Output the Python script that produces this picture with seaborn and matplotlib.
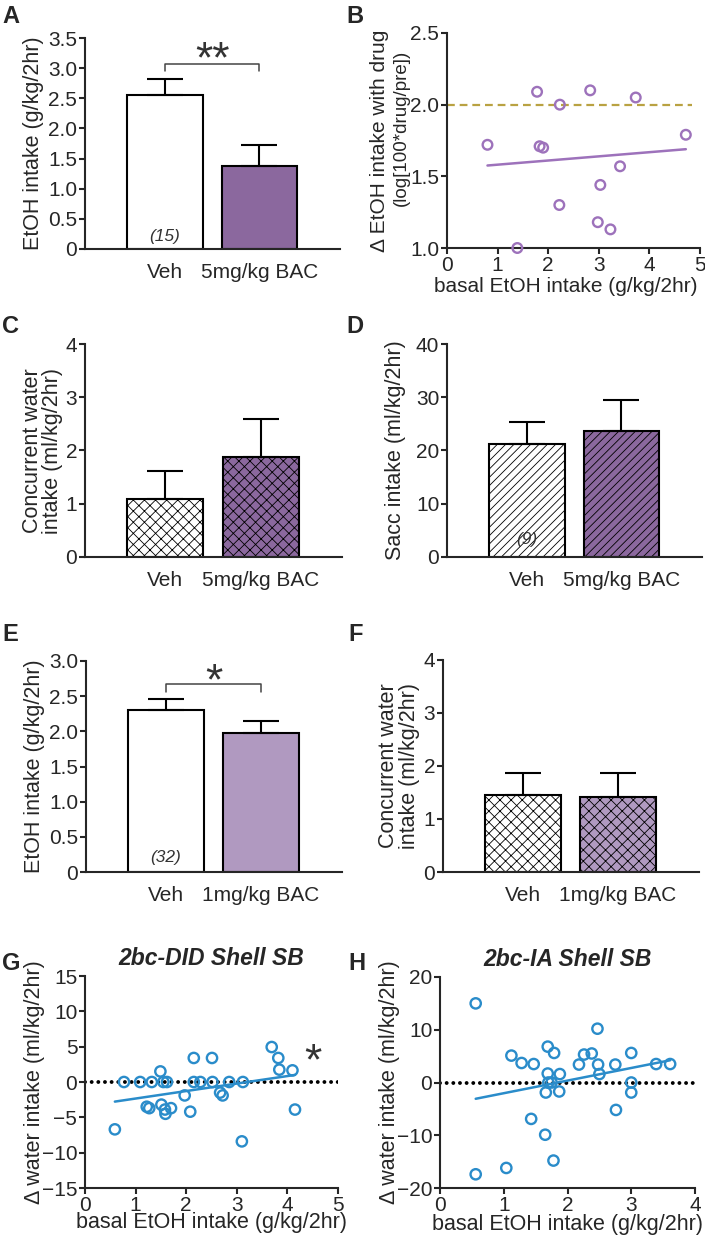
import numpy as np
import pandas as pd
import matplotlib
matplotlib.use("Agg")
import matplotlib.pyplot as plt
import seaborn as sns

sns.set_style("ticks")
plt.rcParams['font.family'] = ['Liberation Sans', 'DejaVu Sans']
plt.rcParams['hatch.linewidth'] = 0.6
plt.rcParams['axes.linewidth'] = 1.5

# colours
dark_purple = '#8d5fa7'
light_purple = '#b193c6'
marker_purple = '#9d72bb'
blue = '#2a8cca'
olive = '#b9a242'

# bar panels: means and SEM
groups_5 = ['Veh', '5mg/kg BAC']
groups_1 = ['Veh', '1mg/kg BAC']
a_mean = [2.55, 1.38]
a_sem = [0.27, 0.35]
c_mean = [1.09, 1.87]
c_sem = [0.52, 0.72]
d_mean = [21.3, 23.6]
d_sem = [4.1, 5.9]
e_mean = [2.31, 1.98]
e_sem = [0.15, 0.17]
f_mean = [1.46, 1.41]
f_sem = [0.40, 0.45]

# panel B scatter
b_basal = [0.80, 1.39, 1.78, 1.83, 1.90, 2.23, 2.22, 2.83, 2.98, 3.03, 3.23, 3.42, 3.73, 4.72]
b_delta = [1.72, 1.00, 2.09, 1.71, 1.70, 2.00, 1.30, 2.10, 1.18, 1.44, 1.13, 1.57, 2.05, 1.79]

# panel G scatter (2bc-DID)
g_basal = [0.59, 0.77, 1.09, 1.22, 1.27, 1.32, 1.49, 1.51, 1.55, 1.58, 1.59, 1.62, 1.70,
           1.97, 2.08, 2.15, 2.15, 2.28, 2.51, 2.52, 2.67, 2.72, 2.85, 3.10, 3.12, 3.69,
           3.82, 3.84, 4.10, 4.15]
g_water = [-6.7, 0.0, 0.0, -3.5, -3.7, 0.0, 1.5, -3.2, 0.0, -3.9, -4.5, 0.0, -3.7,
           -1.9, -4.2, 3.4, 0.0, 0.0, 3.4, 0.0, -1.5, -1.9, 0.0, -8.4, 0.0, 4.95,
           3.4, 1.75, 1.65, -3.9]

# panel H scatter (2bc-IA)
h_basal = [0.56, 0.56, 1.04, 1.12, 1.28, 1.47, 1.43, 1.65, 1.66, 1.69, 1.69, 1.70, 1.75,
           1.78, 1.79, 1.88, 1.87, 2.18, 2.26, 2.38, 2.47, 2.48, 2.50, 2.75, 2.76, 3.00,
           3.00, 3.00, 3.39, 3.61]
h_water = [15.0, -17.4, -16.2, 5.1, 3.7, 3.5, -6.9, -9.9, -1.9, 6.8, 1.7, 0.0, 0.0,
           -14.8, 5.6, 1.6, -1.7, 3.4, 5.3, 5.5, 10.2, 3.4, 1.6, 3.4, -5.2, 5.6,
           0.0, -1.9, 3.5, 3.5]

W, H = 705, 1237
fig = plt.figure(figsize=(W / 100, H / 100), dpi=100)


def px_axes(left, top, right, bottom):
    return fig.add_axes([left / W, 1 - bottom / H, (right - left) / W, (bottom - top) / H])


def bar_panel(ax, groups, means, sems, colors, hatch=None):
    df = pd.DataFrame({'group': groups, 'value': means})
    sns.barplot(data=df, x='group', y='value', hue='group', palette=colors, legend=False,
                width=0.8, edgecolor='black', linewidth=1.5, errorbar=None, ax=ax)
    if hatch:
        for p in ax.patches:
            p.set_hatch(hatch)
    ax.errorbar(x=np.arange(len(groups)), y=means,
                yerr=[np.zeros(len(means)), sems], fmt='none', ecolor='black',
                elinewidth=1.5, capsize=13, capthick=1.5)
    ax.set_xlim(-0.84, 1.85)
    ax.set_xlabel('')
    ax.tick_params(axis='x', length=0, pad=10, labelsize=15)
    ax.tick_params(axis='y', length=4, width=1.5, pad=1.5, labelsize=15)
    sns.despine(ax=ax)


def ylab(ax, text, x, size=15.5):
    ax.set_ylabel(text, fontsize=size, linespacing=0.95)
    ax.yaxis.label.set_va('center')
    ax.yaxis.set_label_coords(x, 0.5)


def scatter_panel(ax, x, y, color, size=55):
    df = pd.DataFrame({'basal': x, 'delta': y})
    sns.regplot(data=df, x='basal', y='delta', ci=None, ax=ax,
                scatter_kws=dict(s=size, facecolors='none', edgecolors=color,
                                 linewidths=1.7, alpha=1, clip_on=False, zorder=3),
                line_kws=dict(color=color, lw=1.8))
    ax.tick_params(axis='both', length=4, width=1.5, pad=1.5, labelsize=15)
    sns.despine(ax=ax)


# ---- A
axA = px_axes(85, 38, 340, 249)
bar_panel(axA, groups_5, a_mean, a_sem, ['white', dark_purple])
axA.set_ylim(0, 3.5)
axA.set_yticks(np.arange(0, 3.51, 0.5))
axA.set_yticklabels(['0'] + [f'{v:.1f}' for v in np.arange(0.5, 3.51, 0.5)])
ylab(axA, 'EtOH intake (g/kg/2hr)', -0.2)
axA.text(0, 0.2, '(15)', ha='center', va='center', fontsize=12.5, style='italic', color='#333333')
axA.plot([0, 0, 1, 1], [2.95, 3.07, 3.07, 2.95], color='#444444', lw=1.1)
axA.text(0.5, 2.93, '**', ha='center', va='baseline', fontsize=32, color='#333333')

# ---- B
axB = px_axes(447, 33, 700, 248)
axB.axhline(2.0, xmin=0, xmax=0.97, color=olive, ls=(0, (3.5, 2.2)), lw=1.6, zorder=1)
scatter_panel(axB, b_basal, b_delta, marker_purple, size=48)
axB.set_xlim(0, 5)
axB.set_ylim(1.0, 2.5)
axB.set_yticks([1.0, 1.5, 2.0, 2.5])
axB.set_xticks([0, 1, 2, 3, 4, 5])
axB.set_xlabel('basal EtOH intake (g/kg/2hr)', fontsize=15)
axB.xaxis.label.set_va('center')
axB.xaxis.set_label_coords(0.47, -0.18)
ylab(axB, 'Δ EtOH intake with drug', -0.265, size=15)
axB.text(-0.182, 0.56, '(log[100*drug/pre])', rotation=90, transform=axB.transAxes,
         ha='center', va='center', fontsize=13.5)

# ---- C
axC = px_axes(85, 344, 342, 557)
bar_panel(axC, groups_5, c_mean, c_sem, ['white', dark_purple], hatch='xxx')
axC.set_ylim(0, 4)
axC.set_yticks([0, 1, 2, 3, 4])
ylab(axC, 'Concurrent water\nintake (ml/kg/2hr)', -0.165)

# ---- D
axD = px_axes(447, 344, 702, 557)
bar_panel(axD, groups_5, d_mean, d_sem, ['white', dark_purple], hatch='////')
axD.set_ylim(0, 40)
axD.set_yticks([0, 10, 20, 30, 40])
ylab(axD, 'Sacc intake (ml/kg/2hr)', -0.2)
axD.text(0, 3.2, '(9)', ha='center', va='center', fontsize=12.5, style='italic', color='#333333')

# ---- E
axE = px_axes(86, 661, 342, 872)
bar_panel(axE, groups_1, e_mean, e_sem, ['white', light_purple])
axE.set_ylim(0, 3.0)
axE.set_yticks(np.arange(0, 3.01, 0.5))
axE.set_yticklabels(['0'] + [f'{v:.1f}' for v in np.arange(0.5, 3.01, 0.5)])
ylab(axE, 'EtOH intake (g/kg/2hr)', -0.2)
axE.text(0, 0.21, '(32)', ha='center', va='center', fontsize=12.5, style='italic', color='#333333')
axE.plot([0, 0, 1, 1], [2.56, 2.67, 2.67, 2.56], color='#444444', lw=1.1)
axE.text(0.5, 2.52, '*', ha='center', va='baseline', fontsize=32, color='#333333')

# ---- F
axF = px_axes(443, 660, 699, 872)
bar_panel(axF, groups_1, f_mean, f_sem, ['white', light_purple], hatch='xxx')
axF.set_ylim(0, 4)
axF.set_yticks([0, 1, 2, 3, 4])
ylab(axF, 'Concurrent water\nintake (ml/kg/2hr)', -0.172)

# ---- G
axG = px_axes(85, 976, 338, 1188)
axG.axhline(0, color='black', ls=(0, (0.01, 1.7)), lw=2.8, dash_capstyle='round', zorder=1)
scatter_panel(axG, g_basal, g_water, blue)
axG.set_xlim(0, 5)
axG.set_ylim(-15, 15)
axG.set_yticks(np.arange(-15, 16, 5))
axG.set_xticks(np.arange(0, 6, 1))
axG.set_xlabel('basal EtOH intake (g/kg/2hr)', fontsize=15.5)
axG.xaxis.label.set_va('center')
axG.xaxis.set_label_coords(0.5, -0.165)
ylab(axG, 'Δ water intake (ml/kg/2hr)', -0.2)
axG.set_title('2bc-DID Shell SB', fontsize=16.5, weight='bold', style='italic', pad=8)
axG.text(4.5, 1.1, '*', ha='center', va='baseline', fontsize=32, color='#333333')

# ---- H
axH = px_axes(440, 977, 695, 1188)
axH.axhline(0, color='black', ls=(0, (0.01, 1.7)), lw=2.8, dash_capstyle='round', zorder=1)
scatter_panel(axH, h_basal, h_water, blue)
axH.set_xlim(0, 4)
axH.set_ylim(-20, 20)
axH.set_yticks([-20, -10, 0, 10, 20])
axH.set_xticks([0, 1, 2, 3, 4])
axH.set_xlabel('basal EtOH intake (g/kg/2hr)', fontsize=15.5)
axH.xaxis.label.set_va('center')
axH.xaxis.set_label_coords(0.5, -0.175)
ylab(axH, 'Δ water intake (ml/kg/2hr)', -0.2)
axH.set_title('2bc-IA Shell SB', fontsize=16.5, weight='bold', style='italic', pad=8)

# panel letters
for letter, x, y in [('A', 2, 5), ('B', 346, 5), ('C', 2, 315), ('D', 346, 315),
                     ('E', 2, 623), ('F', 348, 623), ('G', 2, 952), ('H', 348, 952)]:
    fig.text(x / W, 1 - y / H, letter, fontsize=17, weight='bold', va='top', ha='left')

fig.savefig('out.png', dpi=100)
